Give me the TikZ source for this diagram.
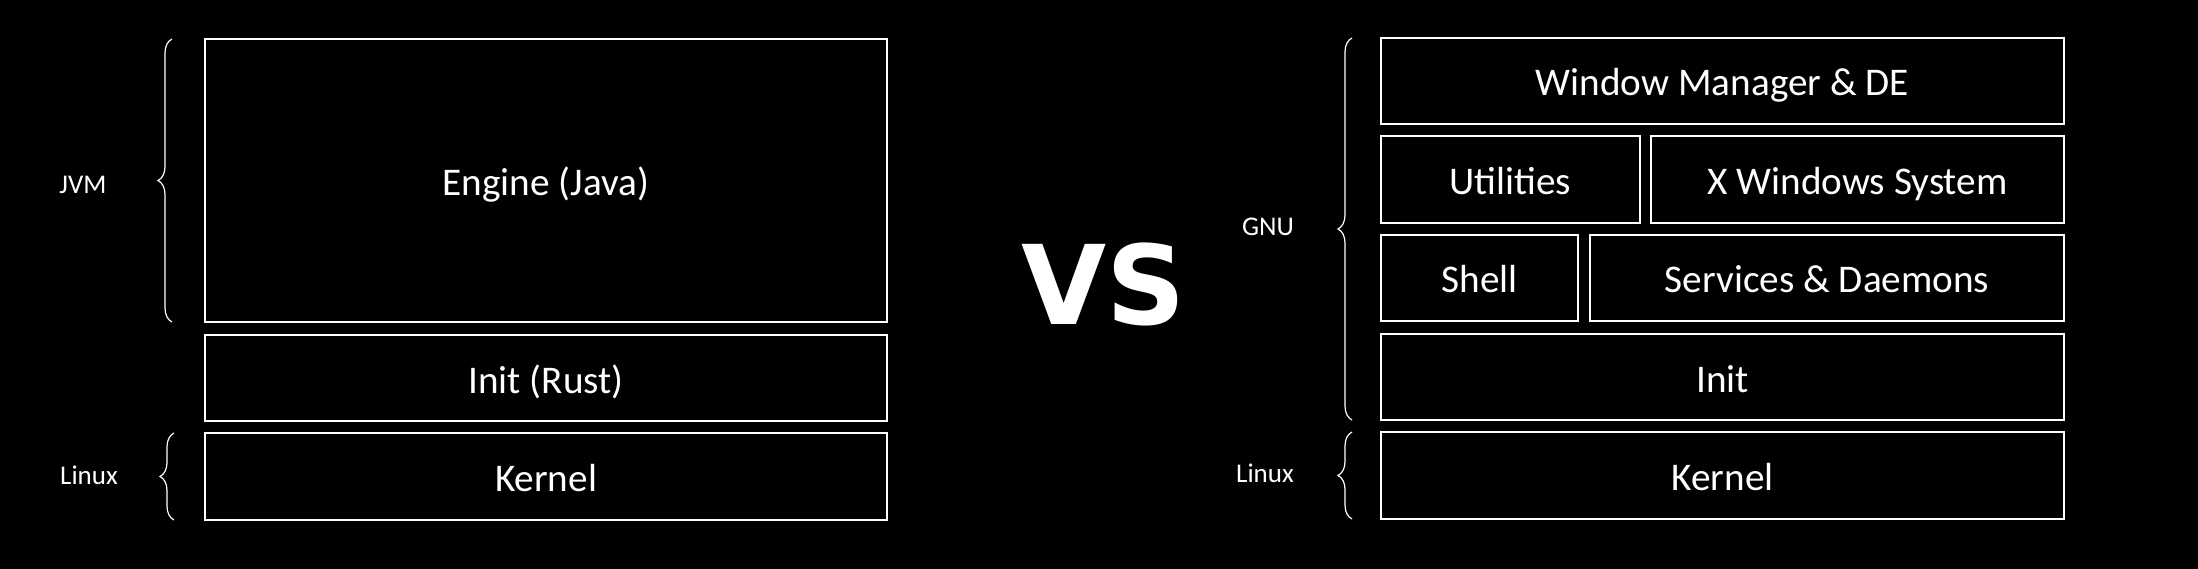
\documentclass[tikz,border=0pt]{standalone}
\usepackage{fontspec}
\setmainfont{Carlito}
\newfontfamily\vsfont{DejaVu Sans}
\usetikzlibrary{decorations.pathreplacing}
\begin{document}
\begin{tikzpicture}[x=1pt,y=-1pt,
  layer/.style={draw=white,line width=1.4pt,inner sep=0pt,outer sep=0pt,text=white,text height=30pt,text depth=0pt,font=\fontsize{39.2}{44}\selectfont},
  lbl/.style={text=white,inner sep=0pt,font=\fontsize{27}{31}\selectfont},
  brc/.style={draw=white,line width=1.2pt,decorate,decoration={brace,amplitude=14pt}}]
\fill[black] (0,0) rectangle (2198,569);
\useasboundingbox (0,0) rectangle (2198,569);
% left stack
\node[layer,minimum width=682pt,minimum height=283pt] (engine) at (546,180.5) {Engine (Java)};
\node[layer,minimum width=682pt,minimum height=86pt] (initr) at (546,378) {Init (Rust)};
\node[layer,minimum width=682pt,minimum height=87pt] (kernl) at (546,476.5) {Kernel};
% right stack
\node[layer,minimum width=683pt,minimum height=86pt] (wm) at (1722.5,81) {Window Manager \& DE};
\node[layer,minimum width=259pt,minimum height=87pt] (util) at (1510.5,179.5) {Utilities};
\node[layer,minimum width=413pt,minimum height=87pt] (xw) at (1857.5,179.5) {X Windows System};
\node[layer,minimum width=197pt,minimum height=86pt] (shell) at (1479.5,278) {Shell};
\node[layer,minimum width=474pt,minimum height=86pt] (serv) at (1827,278) {Services \& Daemons};
\node[layer,minimum width=683pt,minimum height=86pt] (initg) at (1722.5,377) {Init};
\node[layer,minimum width=683pt,minimum height=87pt] (kernr) at (1722.5,475.5) {Kernel};
% VS
\node[text=white,inner sep=0pt,anchor=base,font=\vsfont\bfseries\fontsize{110}{120}\selectfont] (vs) at (1103.5,324) {VS};
% brace coordinates
\coordinate (jb) at (172,322); \coordinate (jt) at (172,39);
\coordinate (lb) at (174,520); \coordinate (lt) at (174,433);
\coordinate (gb) at (1352,420); \coordinate (gt) at (1352,38);
\coordinate (rb) at (1352,519); \coordinate (rt) at (1352,432);
\draw[brc] (jb) -- (jt);
\draw[brc] (lb) -- (lt);
\draw[brc] (gb) -- (gt);
\draw[brc] (rb) -- (rt);
% labels
\node[lbl] (jvm) at (83,185) {JVM};
\node[lbl] (linl) at (89,475) {Linux};
\node[lbl] (gnu) at (1268,227) {GNU};
\node[lbl] (linr) at (1265,473) {Linux};
\end{tikzpicture}
\end{document}
